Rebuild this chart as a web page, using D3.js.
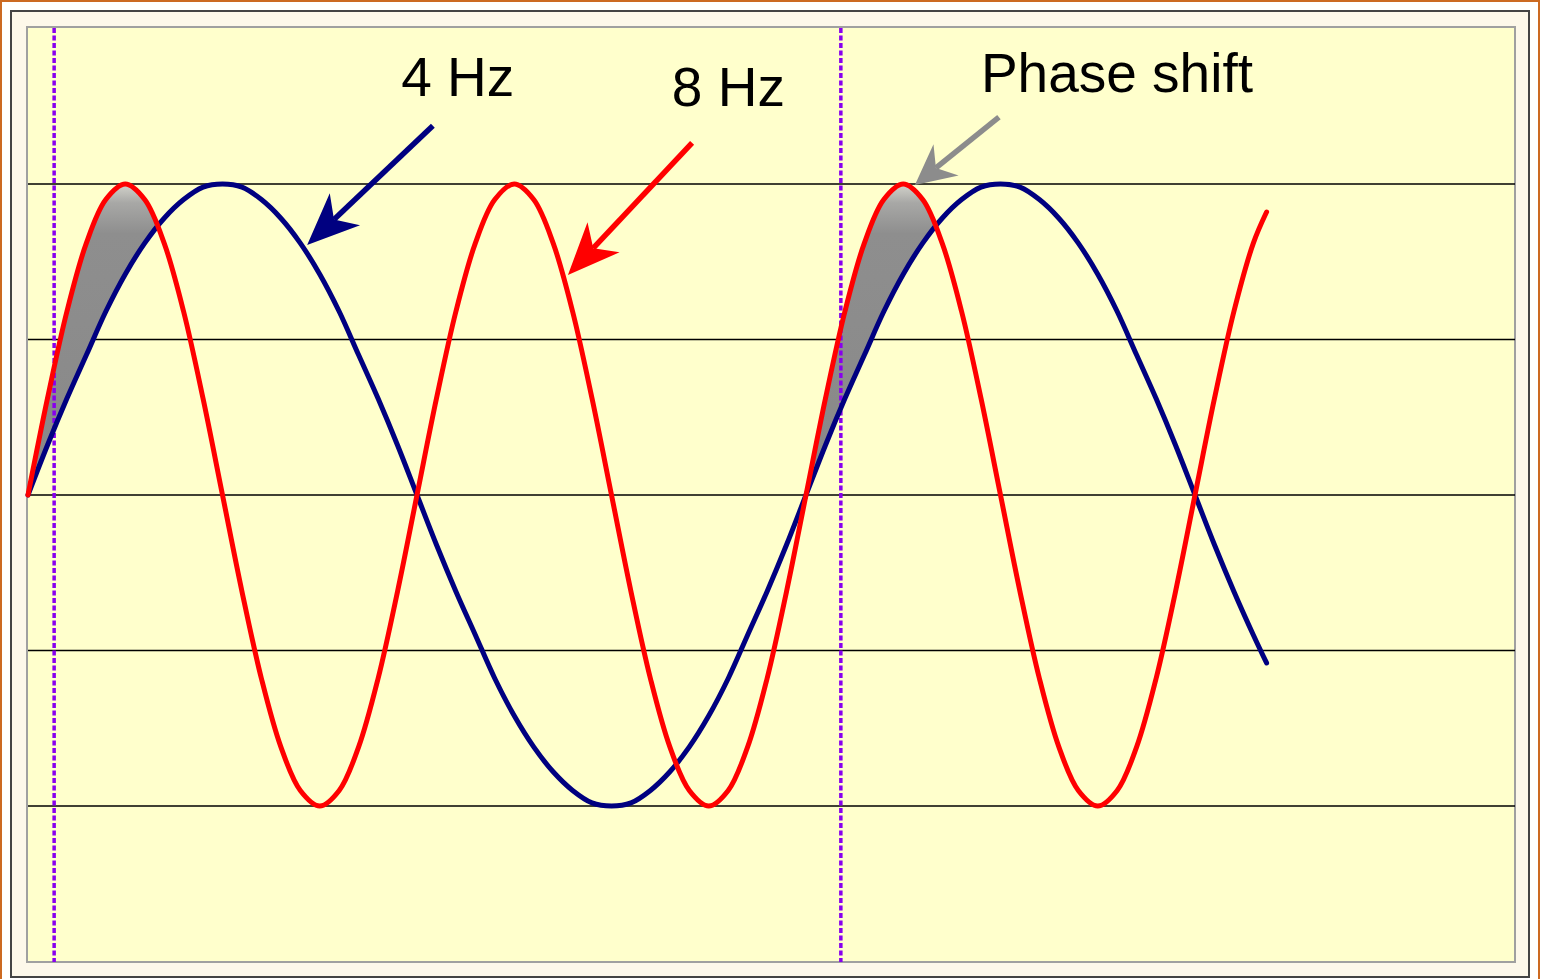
<!DOCTYPE html>
<html>
<head>
<meta charset="utf-8">
<script src="https://cdn.jsdelivr.net/npm/d3@7"></script>
<style>
  html, body { margin: 0; padding: 0; background: #fff; }
  svg { display: block; }
</style>
</head>
<body>
<div id="chart"></div>
<script>
// 4 Hz vs 8 Hz sine waves, phase shift shading

// sample times (ms) and wave values
const timesMs = [0, 6.25, 12.5, 18.75, 25, 31.25, 37.5, 43.75, 50, 56.25,
  62.5, 68.75, 75, 81.25, 87.5, 93.75, 100, 106.25, 112.5, 118.75,
  125, 131.25, 137.5, 143.75, 150, 156.25, 162.5, 168.75, 175, 181.25,
  187.5, 193.75, 200, 206.25, 212.5, 218.75, 225, 231.25, 237.5, 243.75,
  250, 256.25, 262.5, 268.75, 275, 281.25, 287.5, 293.75, 300, 306.25,
  312.5, 318.75, 325, 331.25, 337.5, 343.75, 350, 356.25, 362.5, 368.75,
  375, 381.25, 387.5, 393.75, 398];

const wave4Hz = [0, 0.16, 0.31, 0.45, 0.59, 0.71, 0.81, 0.89, 0.95, 0.99,
  1.00, 0.99, 0.95, 0.89, 0.81, 0.71, 0.59, 0.45, 0.31, 0.16,
  0, -0.16, -0.31, -0.45, -0.59, -0.71, -0.81, -0.89, -0.95, -0.99,
  -1.00, -0.99, -0.95, -0.89, -0.81, -0.71, -0.59, -0.45, -0.31, -0.16,
  0, 0.16, 0.31, 0.45, 0.59, 0.71, 0.81, 0.89, 0.95, 0.99,
  1.00, 0.99, 0.95, 0.89, 0.81, 0.71, 0.59, 0.45, 0.31, 0.16,
  0, -0.16, -0.31, -0.45, -0.54];

const wave8Hz = [0, 0.31, 0.59, 0.81, 0.95, 1.00, 0.95, 0.81, 0.59, 0.31,
  0, -0.31, -0.59, -0.81, -0.95, -1.00, -0.95, -0.81, -0.59, -0.31,
  0, 0.31, 0.59, 0.81, 0.95, 1.00, 0.95, 0.81, 0.59, 0.31,
  0, -0.31, -0.59, -0.81, -0.95, -1.00, -0.95, -0.81, -0.59, -0.31,
  0, 0.31, 0.59, 0.81, 0.95, 1.00, 0.95, 0.81, 0.59, 0.31,
  0, -0.31, -0.59, -0.81, -0.95, -1.00, -0.95, -0.81, -0.59, -0.31,
  0, 0.31, 0.59, 0.81, 0.91];

const gridValues = [-1, -0.5, 0, 0.5, 1];
const markerTimesMs = [8.4, 261.2];
const shadeWindowsMs = [[0, 41.7], [250, 291.8]];
const labelTexts = ["4 Hz", "8 Hz", "Phase shift"];

// layout
const width = 1541;
const height = 979;
const plot = {left: 27, top: 27, right: 1515, bottom: 962};

const data = timesMs.map((t, i) => ({t: t, a: wave4Hz[i], b: wave8Hz[i]}));

const x = d3.scaleLinear().domain([0, 250]).range([28, 806]);
const y = d3.scaleLinear().domain([-1, 1]).range([806, 184]);

const svg = d3.select("#chart")
  .append("svg")
  .attr("width", width)
  .attr("height", height);

const defs = svg.append("defs");

// gray shading with a light sheen near the top
const grad = defs.append("linearGradient")
  .attr("id", "shade")
  .attr("gradientUnits", "userSpaceOnUse")
  .attr("x1", 0).attr("x2", 0)
  .attr("y1", y(1)).attr("y2", y(0));
grad.append("stop").attr("offset", 0).attr("stop-color", "#d4d4cc");
grad.append("stop").attr("offset", 0.06).attr("stop-color", "#a8a8a6");
grad.append("stop").attr("offset", 0.16).attr("stop-color", "#8e8e8e");
grad.append("stop").attr("offset", 1).attr("stop-color", "#888");

const clip = defs.append("clipPath").attr("id", "shadeClip");
clip.selectAll("rect")
  .data(shadeWindowsMs)
  .enter()
  .append("rect")
    .attr("x", d => x(d[0]))
    .attr("width", d => x(d[1]) - x(d[0]))
    .attr("y", plot.top)
    .attr("height", plot.bottom - plot.top);

// outer frames
svg.append("rect")
  .attr("x", 1).attr("y", 1)
  .attr("width", width - 3).attr("height", height + 10)
  .attr("fill", "#fff")
  .attr("stroke", "#cc6a22")
  .attr("stroke-width", 2);

svg.append("rect")
  .attr("x", 11).attr("y", 11)
  .attr("width", 1518).attr("height", 966)
  .attr("fill", "#fdf8ea")
  .attr("stroke", "#444")
  .attr("stroke-width", 2);

svg.append("rect")
  .attr("x", plot.left).attr("y", plot.top)
  .attr("width", plot.right - plot.left).attr("height", plot.bottom - plot.top)
  .attr("fill", "#ffffcc")
  .attr("stroke", "#a0a0a0")
  .attr("stroke-width", 2);

// horizontal gridlines
svg.append("g")
  .selectAll("line")
  .data(gridValues)
  .enter()
  .append("line")
    .attr("x1", plot.left + 1)
    .attr("x2", plot.right)
    .attr("y1", d => y(d))
    .attr("y2", d => y(d))
    .attr("stroke", "#000")
    .attr("stroke-width", 1.5);

// shaded phase difference
const area = d3.area()
  .x(d => x(d.t))
  .y0(d => y(d.a))
  .y1(d => y(d.b))
  .curve(d3.curveCatmullRom);

svg.append("path")
  .datum(data)
  .attr("d", area)
  .attr("fill", "url(#shade)")
  .attr("clip-path", "url(#shadeClip)");

// dotted markers
svg.append("g")
  .selectAll("line")
  .data(markerTimesMs)
  .enter()
  .append("line")
    .attr("x1", d => x(d))
    .attr("x2", d => x(d))
    .attr("y1", plot.top + 1)
    .attr("y2", plot.bottom)
    .attr("stroke", "#8800ee")
    .attr("stroke-width", 3.5)
    .attr("stroke-dasharray", "5,2.5");

// waves
const line4 = d3.line().x(d => x(d.t)).y(d => y(d.a)).curve(d3.curveCatmullRom);
const line8 = d3.line().x(d => x(d.t)).y(d => y(d.b)).curve(d3.curveCatmullRom);

svg.append("path")
  .datum(data)
  .attr("d", line4)
  .attr("fill", "none")
  .attr("stroke", "#000080")
  .attr("stroke-width", 5)
  .attr("stroke-linejoin", "round")
  .attr("stroke-linecap", "round");

svg.append("path")
  .datum(data)
  .attr("d", line8)
  .attr("fill", "none")
  .attr("stroke", "#ff0000")
  .attr("stroke-width", 5)
  .attr("stroke-linejoin", "round")
  .attr("stroke-linecap", "round");

// arrows, in data units
const arrows = [
  {from: [130.1, 1.187], to: [89.7, 0.804], color: "#000080", head: 52, half: 22, notch: 37},
  {from: [213.4, 1.132], to: [173.5, 0.707], color: "#ff0000", head: 52, half: 22, notch: 37},
  {from: [312.0, 1.215], to: [285.0, 0.997], color: "#8c8c8c", head: 40, half: 20, notch: 27}
];

arrows.forEach(a => {
  const sx = x(a.from[0]), sy = y(a.from[1]);
  const tx = x(a.to[0]), ty = y(a.to[1]);
  const len = Math.hypot(tx - sx, ty - sy);
  const ux = (tx - sx) / len, uy = (ty - sy) / len;
  const nx = -uy, ny = ux;
  const bx = tx - ux * a.head, by = ty - uy * a.head;
  const mx = tx - ux * a.notch, my = ty - uy * a.notch;
  svg.append("line")
    .attr("x1", sx).attr("y1", sy)
    .attr("x2", mx).attr("y2", my)
    .attr("stroke", a.color)
    .attr("stroke-width", 5.5);
  svg.append("path")
    .attr("d", `M${tx},${ty}L${bx + nx * a.half},${by + ny * a.half}L${mx},${my}L${bx - nx * a.half},${by - ny * a.half}Z`)
    .attr("fill", a.color);
});

// labels
const labelPos = [[119.9, 1.283], [206.9, 1.251], [306.2, 1.296]];

svg.append("g")
  .selectAll("text")
  .data(labelTexts)
  .enter()
  .append("text")
    .attr("x", (d, i) => x(labelPos[i][0]))
    .attr("y", (d, i) => y(labelPos[i][1]))
    .attr("font-family", "Liberation Sans, Arial, sans-serif")
    .attr("font-size", "55px")
    .attr("fill", "#000")
    .text(d => d);
</script>
</body>
</html>
